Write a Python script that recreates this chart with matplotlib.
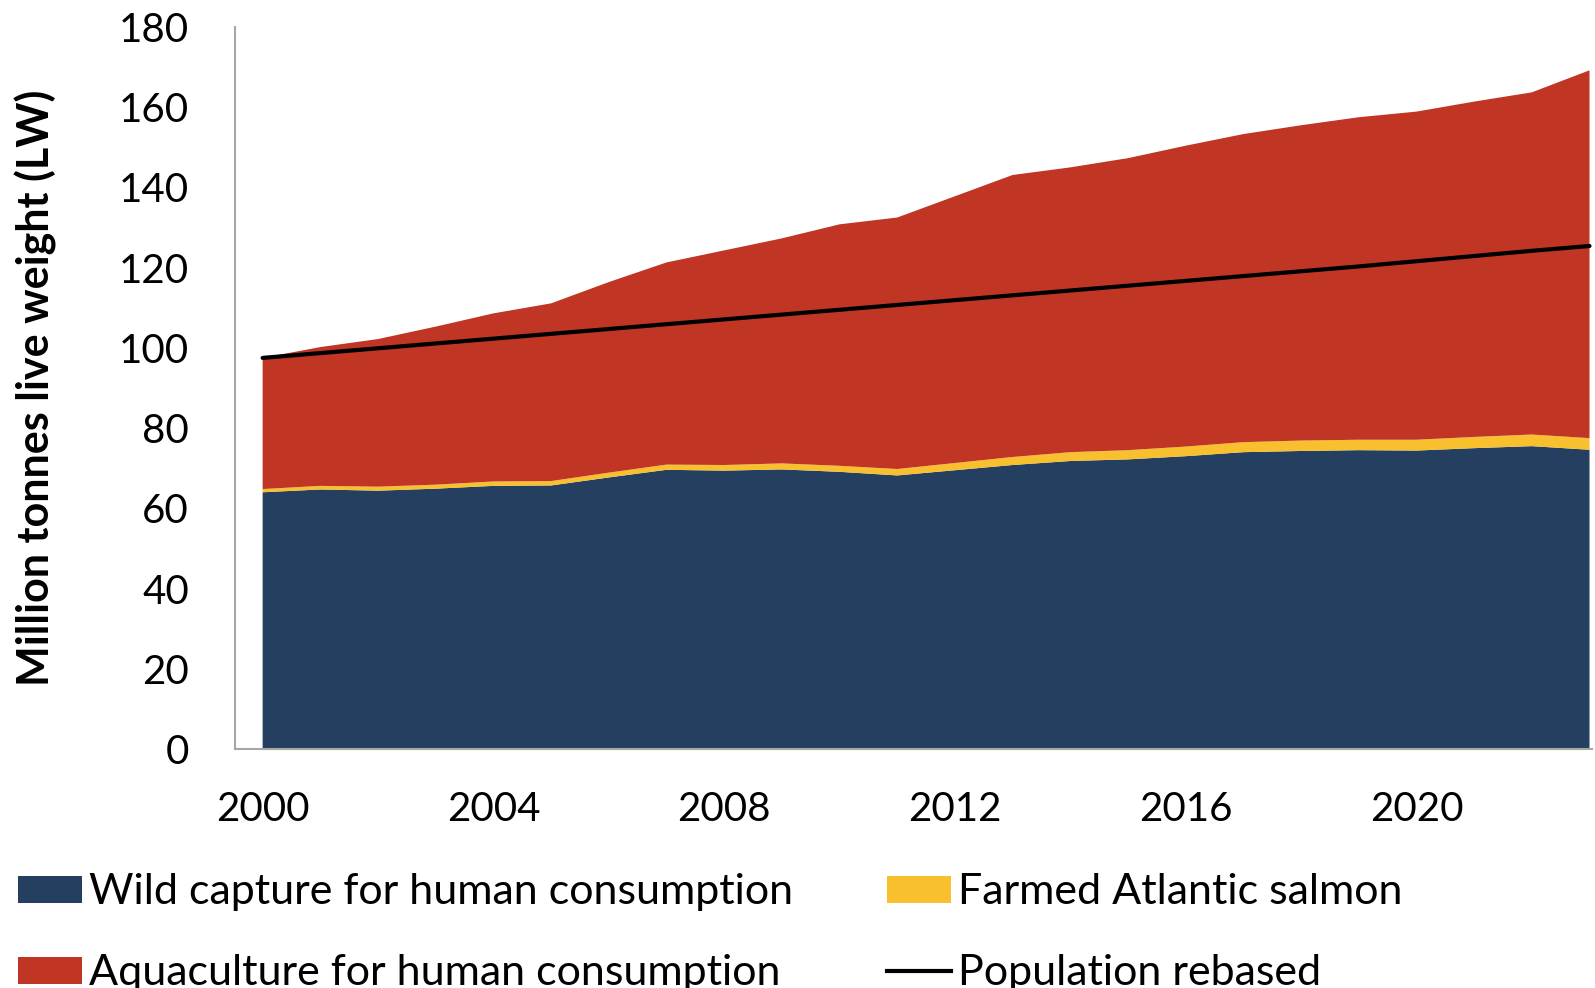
import matplotlib
matplotlib.use("Agg")
import matplotlib.pyplot as plt
from matplotlib.patches import Patch
from matplotlib.lines import Line2D

years = list(range(2000, 2024))

# million tonnes live weight
wild_capture = [64.0, 64.7, 64.4, 64.9, 65.6, 65.7, 67.7, 69.6, 69.4, 69.7, 69.1, 68.2,
                69.5, 70.8, 71.8, 72.2, 73.0, 74.0, 74.3, 74.5, 74.4, 75.0, 75.5, 74.6]
farmed_salmon = [0.8, 0.9, 1.0, 1.0, 1.1, 1.1, 1.2, 1.3, 1.4, 1.5, 1.5, 1.6,
                 1.8, 2.0, 2.2, 2.3, 2.4, 2.5, 2.6, 2.6, 2.7, 2.8, 2.9, 2.9]
aquaculture = [32.7, 34.6, 36.8, 39.4, 41.9, 44.3, 47.5, 50.4, 53.5, 56.1, 60.2, 62.7,
               66.5, 70.3, 71.0, 72.8, 75.0, 76.8, 78.6, 80.4, 81.8, 83.6, 85.3, 91.7]
population_rebased = [97.5, 98.7, 99.9, 101.1, 102.3, 103.5, 104.7, 105.9, 107.1, 108.3,
                      109.5, 110.7, 111.9, 113.1, 114.3, 115.5, 116.7, 117.9, 119.1, 120.3,
                      121.6, 122.9, 124.2, 125.4]

labels = ["Wild capture for human consumption", "Farmed Atlantic salmon",
          "Aquaculture for human consumption", "Population rebased"]
colors = ["#243F60", "#F8BF2E", "#C03524"]

plt.rcParams["font.family"] = ["Lato", "DejaVu Sans"]

fig = plt.figure(figsize=(15.95, 9.88), dpi=100)
ax = fig.add_axes([0.1473, 0.2419, 0.998 - 0.1473, 0.9727 - 0.2419])

ax.stackplot(years, wild_capture, farmed_salmon, aquaculture, colors=colors, linewidth=0)
ax.plot(years, population_rebased, color="black", linewidth=3, solid_capstyle="round")

ax.set_xlim(1999.52, 2023.04)
ax.set_ylim(0, 180)
ax.set_yticks(range(0, 181, 20))
ax.set_xticks([2000, 2004, 2008, 2012, 2016, 2020])
ax.tick_params(length=0, labelsize=29)
ax.tick_params(axis="y", pad=33)
ax.tick_params(axis="x", pad=30)
for s in ["top", "right"]:
    ax.spines[s].set_visible(False)
for s in ["left", "bottom"]:
    ax.spines[s].set_color("#A6A6A6")
    ax.spines[s].set_linewidth(1.5)

ax.set_ylabel("Million tonnes live weight (LW)", fontsize=31, fontweight="bold")
ax.yaxis.set_label_coords(-0.131, 0.5)

h_wild = Patch(facecolor=colors[0])
h_aqua = Patch(facecolor=colors[2])
h_salmon = Patch(facecolor=colors[1])
h_pop = Line2D([0], [0], color="black", linewidth=3)

common = dict(frameon=False, fontsize=31, handlelength=1.5, handleheight=0.6,
              handletextpad=0.15, labelspacing=1.0, borderaxespad=0, borderpad=0,
              loc="upper left")
fig.legend([h_wild, h_aqua], [labels[0], labels[2]], bbox_to_anchor=(0.011, 0.116), **common)
fig.legend([h_salmon, h_pop], [labels[1], labels[3]], bbox_to_anchor=(0.556, 0.116), **common)

fig.savefig("out.png", dpi=100)
